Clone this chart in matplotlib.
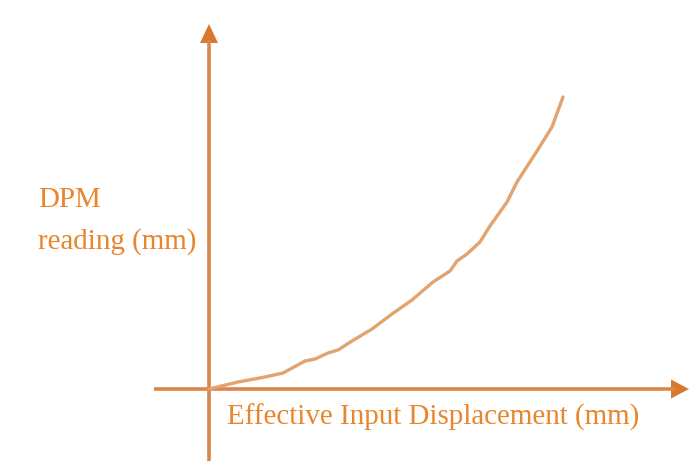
import matplotlib
matplotlib.use("Agg")

import matplotlib.pyplot as plt
from matplotlib.patches import Polygon

# response curve: effective input displacement vs DPM reading (schematic units)
displacement = [0, 29, 56, 74, 96, 106, 119, 129, 143, 163, 183, 203, 224,
                241, 248, 258, 271, 281, 298, 308, 328, 343, 354]
reading = [0, 7, 12, 16, 28, 30, 36, 39, 48, 60, 75, 89, 107,
           118, 128, 135, 147, 163, 187, 207, 238, 262, 292]

x_label = "Effective Input Displacement (mm)"
y_label = ["DPM", "reading (mm)"]

axis_color = "#D9864A"
curve_color = "#E3A36F"
text_color = "#E8862C"

fig = plt.figure(figsize=(6.99, 4.77), dpi=100)
ax = fig.add_axes([0, 0, 1, 1])
ax.set_xlim(-209, 490)
ax.set_ylim(-87, 390)
ax.axis("off")

# axes with arrow heads
ax.plot([-55, 466], [0, 0], color=axis_color, lw=2.6, solid_capstyle="butt")
ax.plot([0, 0], [-72, 349], color=axis_color, lw=2.6, solid_capstyle="butt")
ax.add_patch(Polygon([[462, 9.5], [462, -9.5], [480, 0]], closed=True,
                     color="#D6782E", lw=0))
ax.add_patch(Polygon([[-9, 346], [9, 346], [0, 365]], closed=True,
                     color="#D6782E", lw=0))

ax.plot(displacement, reading, color=curve_color, lw=2.4,
        solid_capstyle="round", solid_joinstyle="round")

font = dict(family=["Liberation Serif", "DejaVu Serif"], fontsize=20.9,
            color=text_color)
ax.text(-171, 183, y_label[0], ha="left", va="baseline", **font)
ax.text(-171, 141, y_label[1], ha="left", va="baseline", **font)
ax.text(18, -35, x_label, ha="left", va="baseline", **font)

fig.savefig("out.png", dpi=100)
plt.close(fig)
